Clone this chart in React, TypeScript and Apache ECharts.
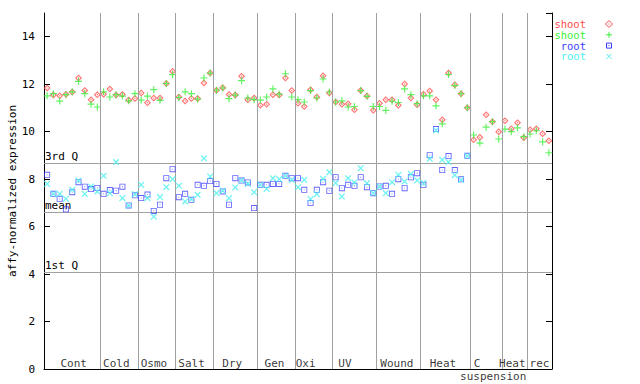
import React, { useEffect, useRef } from 'react';
import * as echarts from 'echarts';

const groupNames = ['Cont', 'Cold', 'Osmo', 'Salt', 'Dry', 'Gen', 'Oxi', 'UV', 'Wound', 'Heat', 'C', 'Heat', 'rec'];
const groupSubNames = ['', '', '', '', '', '', '', '', '', '', 'suspension', '', ''];
const groupSizes = [9, 6, 6, 6, 7, 6, 6, 7, 7, 8, 5, 4, 4];

const shootA = [
  11.84, 11.54, 11.51, 11.58, 11.67, 12.26, 11.73, 11.35, 11.56,
  11.58, 11.80, 11.54, 11.57, 11.33, 11.40,
  11.63, 11.22, 11.42, 11.42, 12.03, 12.55,
  11.46, 11.29, 11.40, 11.40, 12.05, 12.47,
  11.75, 11.85, 11.57, 11.54, 12.33, 11.35, 11.42,
  11.11, 11.16, 11.56, 11.54, 12.26, 11.73,
  11.20, 11.06, 11.77, 11.46, 12.36, 11.63,
  11.25, 11.16, 11.18, 10.92, 11.73, 11.50, 10.90,
  11.20, 11.35, 11.35, 11.11, 12.01, 11.42, 11.13,
  11.58, 11.71, 11.35, 10.50, 12.47, 11.98, 11.60, 11.01,
  9.66, 9.77, 10.71, 10.42, 10.00,
  10.46, 10.12, 10.38, 9.74,
  10.08, 10.12, 9.91, 9.62,
];
const shootB = [
  11.51, 11.60, 11.29, 11.56, 11.68, 12.12, 11.60, 11.16, 11.04,
  11.68, 11.46, 11.56, 11.50, 11.30, 11.60,
  11.33, 11.50, 11.77, 11.32, 12.03, 12.40,
  11.44, 11.68, 11.60, 11.37, 12.26, 12.47,
  11.75, 11.84, 11.39, 11.54, 12.15, 11.42, 11.35,
  11.33, 11.46, 11.80, 11.58, 12.44, 11.46,
  11.35, 11.25, 11.73, 11.42, 12.22, 11.67,
  11.25, 11.30, 11.04, 11.06, 11.73, 11.49, 11.06,
  11.06, 10.90, 11.28, 11.23, 11.80, 11.56, 11.18,
  11.51, 11.51, 11.09, 10.33, 12.41, 11.94, 11.60, 11.01,
  9.86, 9.52, 10.19, 10.42, 9.69,
  10.11, 10.00, 10.16, 9.79,
  9.90, 10.04, 9.57, 9.11,
];
const rootA = [
  8.18, 7.38, 7.17, 6.73, 7.45, 7.87, 7.68, 7.58, 7.63,
  7.38, 7.54, 7.51, 7.68, 6.89, 7.32,
  7.20, 7.35, 6.66, 6.92, 8.04, 8.42,
  7.24, 7.38, 7.13, 7.76, 7.72, 7.92,
  7.80, 7.48, 6.92, 8.04, 7.94, 7.86, 6.78,
  7.76, 7.76, 7.80, 7.80, 8.14, 8.04,
  8.04, 7.55, 6.99, 7.55, 7.87, 7.51,
  8.08, 7.62, 7.76, 7.72, 8.08, 7.66, 7.41,
  7.69, 7.72, 7.38, 8.00, 7.62, 8.08, 8.25,
  7.76, 9.01, 10.11, 8.38, 8.97, 8.38, 7.99, 8.98,
];
const rootB = [
  7.80, 7.38, 7.38, 7.17, 7.55, 7.94, 7.38, 7.69, 7.48,
  8.14, 7.41, 8.72, 7.20, 6.89, 7.37,
  7.76, 7.20, 6.42, 7.24, 7.66, 8.00,
  7.72, 7.06, 7.16, 7.34, 8.88, 8.11,
  7.41, 7.51, 7.20, 7.65, 7.94, 7.80, 7.45,
  7.76, 7.59, 8.04, 8.00, 8.14, 7.97,
  7.66, 7.97, 7.16, 7.37, 8.01, 8.29,
  7.83, 7.27, 8.04, 7.86, 8.46, 7.83, 7.41,
  7.69, 7.41, 7.87, 8.18, 7.90, 8.21, 7.94,
  7.83, 8.86, 10.05, 8.81, 8.72, 8.17, 7.97, 8.98,
];

const summaryNames = ['3rd Q', 'mean', '1st Q'];
const summaryValues = [8.68, 6.60, 4.09];

const legendNames = ['shoot', 'shoot', 'root', 'root'];

const MONO = 'DejaVu Sans Mono';
const RED = '#ff4c4c';
const GREEN = '#38f038';
const BLUE = '#3c3cff';
const CYAN = '#50f0f0';
const GRID = '#a0a0a0';

const DIAMOND = 'path://M3.5,0L7,3.5L3.5,7L0,3.5Z M3.5,1.5L1.5,3.5L3.5,5.5L5.5,3.5Z M3.5,2.7L4.3,3.5L3.5,4.3L2.7,3.5Z';
const SQUARE = 'path://M0,0H7V7H0Z M1,1V6H6V1Z M3,3H4V4H3Z';
const PLUS = 'path://M2.5,0H3.5V2.5H6V3.5H3.5V6H2.5V3.5H0V2.5H2.5Z';

function buildOption() {
  const total = groupSizes.reduce((a, b) => a + b, 0);
  const starts: number[] = [];
  let acc = 0;
  groupSizes.forEach((s) => { starts.push(acc); acc += s; });
  const boundaries = starts.slice(1);
  const labelNudge = [1.5, -3, -3, -3, -3, -1.5, -8, -9.5, -1.5, -2.5, -9, -2, 0];
  const subNudge = 16;

  const pts = (arr: number[]) => arr.map((v, i) => [i + 0.5, v]);

  const labelData: any[] = [];
  groupNames.forEach((n, gi) => {
    const cx = starts[gi] + groupSizes[gi] / 2;
    labelData.push({
      value: [cx, 0], name: n,
      label: { position: 'top', distance: 0, offset: [labelNudge[gi], 0] },
    });
    if (groupSubNames[gi]) {
      labelData.push({
        value: [cx, 0], name: groupSubNames[gi],
        label: { position: 'bottom', distance: 2, offset: [labelNudge[gi] + subNudge, 0] },
      });
    }
  });

  const lg = (row: number) => 24 + row * 10.8;

  return {
    animation: false,
    grid: { left: 44, right: 88, top: 13, bottom: 15, containLabel: false, outerBoundsMode: 'none' },
    xAxis: {
      type: 'value', min: 0, max: total,
      axisLine: { show: true, lineStyle: { color: '#000', width: 1 } },
      axisTick: { show: false }, axisLabel: { show: false }, splitLine: { show: false },
    },
    yAxis: [
      {
        type: 'value', min: 0, max: 15, interval: 2, position: 'left',
        name: 'affy-normalized expression', nameLocation: 'middle', nameGap: 26, nameMoveOverlap: false,
        nameTextStyle: { color: '#000', fontFamily: MONO, fontSize: 11 },
        axisLine: { show: true, lineStyle: { color: '#000', width: 1 } },
        axisTick: { show: true, inside: true, length: 6, lineStyle: { color: '#000' } },
        axisLabel: { color: '#000', fontFamily: MONO, fontSize: 11, margin: 9, showMaxLabel: false },
        splitLine: { show: false },
      },
      {
        type: 'value', min: 0, max: 15, interval: 2, position: 'right',
        axisLine: { show: true, lineStyle: { color: '#000', width: 1 } },
        axisTick: { show: true, inside: true, length: 6, lineStyle: { color: '#000' } },
        axisLabel: { show: false },
        splitLine: { show: false },
      },
    ],
    series: [
      {
        type: 'scatter', name: 'guides', data: [], z: 1, silent: true,
        markLine: {
          silent: true, symbol: ['none', 'none'], animation: false,
          lineStyle: { color: GRID, type: 'solid', width: 1 },
          label: { show: false },
          emphasis: { disabled: true },
          data: [
            ...boundaries.map((b) => ({ xAxis: b })),
            ...summaryValues.map((v, i) => ({
              yAxis: v, name: summaryNames[i],
              label: {
                show: true, position: 'insideStartTop', formatter: summaryNames[i],
                color: '#000', fontFamily: MONO, fontSize: 11, distance: [1, 1],
              },
            })),
          ],
        },
      },
      {
        type: 'scatter', name: 'shootA', z: 3, data: pts(shootA), symbol: DIAMOND, symbolSize: 7,
        itemStyle: { color: RED }, silent: true,
      },
      {
        type: 'scatter', name: 'shootB', z: 4, data: pts(shootB), symbol: PLUS, symbolSize: 7,
        itemStyle: { color: GREEN }, silent: true,
      },
      {
        type: 'scatter', name: 'rootA', z: 5, data: pts(rootA), symbol: SQUARE, symbolSize: 6,
        itemStyle: { color: BLUE }, silent: true,
      },
      {
        type: 'scatter', name: 'rootB', z: 6, data: pts(rootB), symbol: PLUS, symbolSize: 8, symbolRotate: 45,
        itemStyle: { color: CYAN }, silent: true,
      },
      {
        type: 'scatter', name: 'groupLabels', z: 7, data: labelData, symbolSize: 0, silent: true,
        label: { show: true, formatter: (p: any) => p.name, color: '#000', fontFamily: MONO, fontSize: 11 },
      },
    ],
    graphic: [
      ...legendNames.map((n, i) => ({
        type: 'text', x: 586, y: lg(i),
        style: { text: n, fill: [RED, GREEN, BLUE, CYAN][i], font: `10.5px ${MONO}`, textAlign: 'right', textVerticalAlign: 'middle' },
      })),
      { type: 'polygon', shape: { points: [[609, lg(0) - 3.5], [612.5, lg(0)], [609, lg(0) + 3.5], [605.5, lg(0)]] }, style: { fill: 'none', stroke: RED, lineWidth: 1 } },
      { type: 'rect', shape: { x: 608.5, y: lg(0) - 0.5, width: 1, height: 1 }, style: { fill: RED } },
      { type: 'line', shape: { x1: 606, y1: lg(1), x2: 612, y2: lg(1) }, style: { stroke: GREEN, lineWidth: 1 } },
      { type: 'line', shape: { x1: 609, y1: lg(1) - 3, x2: 609, y2: lg(1) + 3 }, style: { stroke: GREEN, lineWidth: 1 } },
      { type: 'rect', shape: { x: 606.5, y: lg(2) - 2.5, width: 5, height: 5 }, style: { fill: 'none', stroke: BLUE, lineWidth: 1 } },
      { type: 'rect', shape: { x: 608.5, y: lg(2) - 0.5, width: 1, height: 1 }, style: { fill: BLUE } },
      { type: 'line', shape: { x1: 606.5, y1: lg(3) - 2.5, x2: 611.5, y2: lg(3) + 2.5 }, style: { stroke: CYAN, lineWidth: 1 } },
      { type: 'line', shape: { x1: 606.5, y1: lg(3) + 2.5, x2: 611.5, y2: lg(3) - 2.5 }, style: { stroke: CYAN, lineWidth: 1 } },
    ],
  };
}

export default function App() {
  const ref = useRef<HTMLDivElement>(null);
  useEffect(() => {
    const chart = echarts.init(ref.current!, null, { renderer: 'svg' });
    chart.setOption(buildOption() as any);
    return () => chart.dispose();
  }, []);
  return (
    <div
      ref={ref}
      style={{ position: 'fixed', left: 0, top: 0, width: 640, height: 384, background: '#fff' }}
    />
  );
}
